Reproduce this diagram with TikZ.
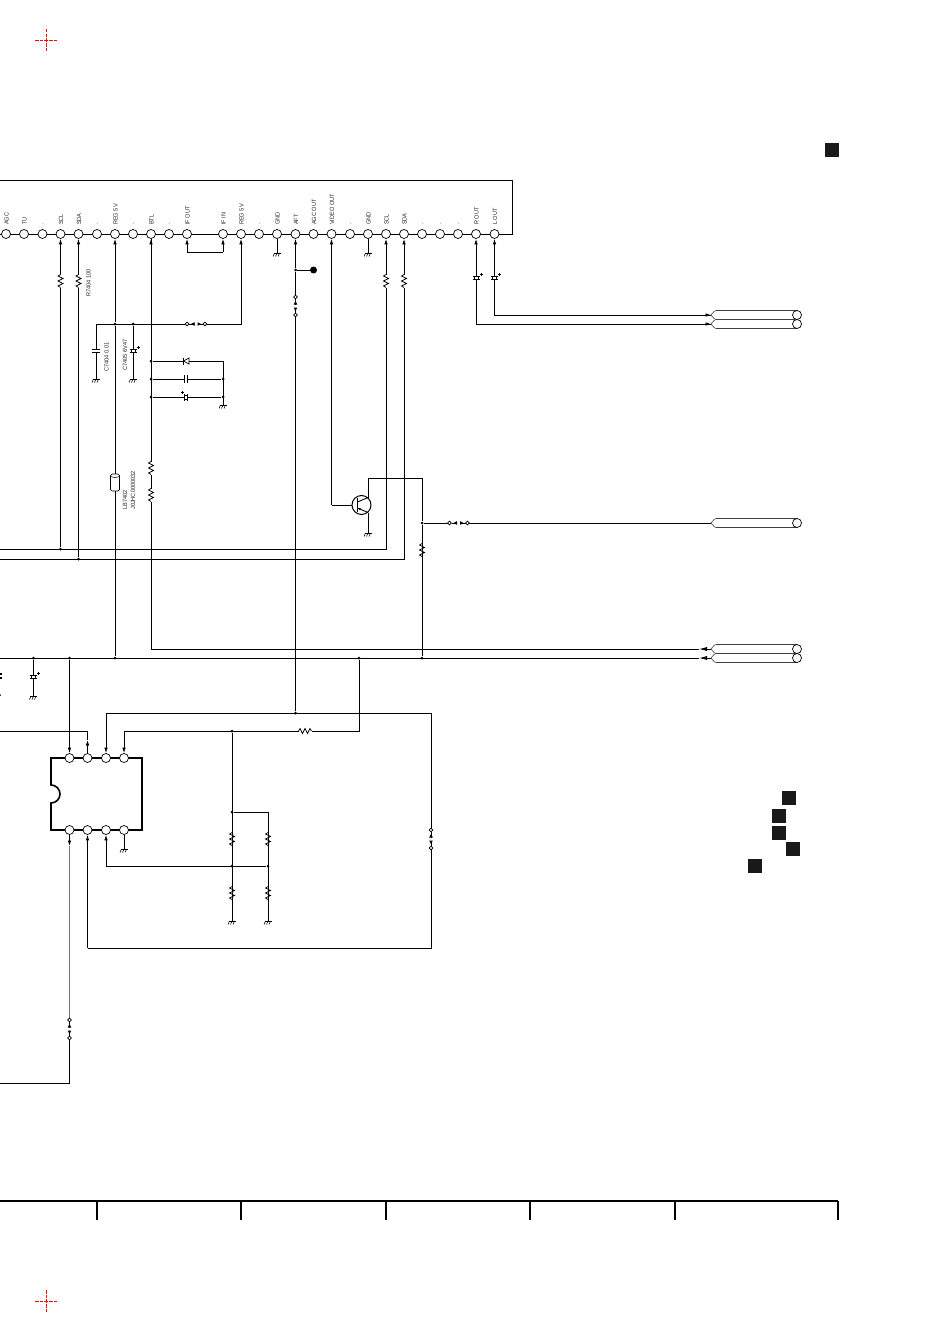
\documentclass[tikz,border=0pt]{standalone}
\usepackage{fontspec}
\setmainfont{Liberation Sans}
\usetikzlibrary{arrows.meta,positioning,calc}
\newcommand\lbl[1]{\scalebox{.92}[1]{#1}}
\tikzset{
  wire/.style={line width=.9pt,black},
  pin/.style={circle,draw=black,fill=white,line width=.7pt,inner sep=0pt,minimum size=9pt},
  dot/.style={circle,fill=black,inner sep=0pt,minimum size=3pt},
  lab/.style={font=\fontsize{6.1}{6}\selectfont,text=black!85,inner sep=0pt,rotate=90},
  sq/.style={fill=black!90,draw=none,inner sep=0pt,minimum size=14pt},
  crop/.style={red,line width=.9pt,dash pattern=on 3.5pt off 1.2pt},
  pics/gnd/.style={code={
    \draw[line width=.7pt] (-3.5,0) -- (3.5,0);
    \foreach \i in {-2.5,0,2.5} \draw[line width=.55pt] (\i,0) -- (\i-1.5,3.5);}},
  pics/res/.style={code={
    \fill[white] (-6.5,-3.5) rectangle (6.5,3.5);
    \draw[line width=.7pt] (-6.5,0) -- (-5,-2.5) -- (-2.5,2.5) -- (0,-2.5) -- (2.5,2.5) -- (5,-2.5) -- (6.5,0);}},
  pics/cap/.style={code={
    \fill[white] (-1.5,-4) rectangle (1.5,4);
    \draw[line width=.9pt] (-1.5,-4) -- (-1.5,4) (1.5,-4) -- (1.5,4);}},
  pics/pol/.style={code={
    \fill[white] (-1.2,-4) rectangle (1.2,4);
    \draw[line width=1.1pt] (-1.4,-3.5) -- (-1.4,3.5) (1.4,-3.5) -- (1.4,3.5);
    \draw[line width=.7pt] (-1.4,-2) -- (1.4,-2) (-1.4,2) -- (1.4,2);
    \draw[line width=.45pt] (3.5,3.5) -- (3.5,6.5) (2,5) -- (5,5);}},
  pics/dio/.style={code={
    \fill[white] (-3,-4) rectangle (3,4);
    \draw[line width=.7pt] (3,-3) -- (-2.5,0) -- (3,3) -- cycle;
    \draw[line width=1.5pt] (-2.5,-3.5) -- (-2.5,3.5);}},
  pics/jump/.style={code={
    \fill[white] (1,-2) rectangle (17,2);
    \draw[line width=.7pt] (2,0) -- (7.5,0) (10.5,0) -- (16,0);
    \draw[line width=.6pt,fill=white] (0,0) circle (1.9) (18,0) circle (1.9);
    \fill (4,0) -- (7.5,-1.8) -- (7.5,1.8) -- cycle;
    \fill (14,0) -- (10.5,-1.8) -- (10.5,1.8) -- cycle;}},
  pics/cable/.style={code={
    \coordinate (-tip) at (0,0);
    \draw[line width=.6pt,black!75,fill=white] (0,0) -- (3,-3.5) to[bend left=15] (5,-4.5) -- (86,-4.5) -- (86,4.5) -- (5,4.5) to[bend left=15] (3,3.5) -- cycle;
    \draw[line width=.7pt,fill=white] (86,0) circle (4.5);}},
}
\begin{document}
\begin{tikzpicture}[x=1pt,y=-1pt,>={Latex[length=5.5pt,width=3.6pt]}]
	\useasboundingbox (0,0) rectangle (950,1343);
	% frame of the tuner pack and its pin row
	\coordinate (fa) at (0,180); \coordinate (fb) at (512.5,180);
	\coordinate (fc) at (512.5,234); \coordinate (fd) at (0,234);
	\draw[wire] (fa) -- (fb) -- (fc) -- (fd);
	\foreach \n/\x/\t in {1/6/AGC,2/24/TU,3/42.5/.,4/60.5/SCL,5/78.5/SDA,6/97/.,7/115/REG 5V,8/133/.,9/151/BTL,10/169/.,11/187/IF OUT,12/223/IF IN,13/241/REG 5V,14/259/.,15/277/GND,16/295.5/AFT,17/313.5/AGC OUT,18/331.5/VIDEO OUT,19/350/.,20/368/GND,21/386/SCL,22/404/SDA,23/422/.,24/440/.,25/458/.,26/476/R OUT,27/494.5/L OUT}{
		\node[pin] (p\n) at (\x,234) {};
		\node[lab,anchor=west] (t\n) at (\x+.5,225) {\lbl{\t}};
	}
	\node[sq] (s0) at (832,150) {};
	% grounds
	\foreach \n/\x/\y in {1/96/379,2/133/379,3/223/405,4/277/253,5/368/253,6/368/533,7/33.5/696,8/124/849,9/232/921,10/268/921}{
		\coordinate (g\n) at (\x,\y);
		\pic at (g\n) {gnd};
	}
	% junctions
	\node[dot] (jscl) at (60.5,549) {}; \node[dot] (jsda) at (78.5,559) {};
	\node[dot] (jreg) at (115,324) {}; \node[dot] (jc5) at (133,324) {};
	\coordinate (ca) at (96,324); \coordinate (cb) at (241,324);
	\node[dot] (jd1) at (151,361) {}; \node[dot] (jd2) at (151,379) {}; \node[dot] (jd3) at (151,397) {};
	\coordinate (rd1) at (223,361); \node[dot] (rd2) at (223,379) {}; \node[dot] (rd3) at (223,397) {};
	\coordinate (ifa) at (187,252); \coordinate (ifb) at (223,252);
	\node[dot] (jaft) at (295.5,270) {};
	\node[circle,fill=black,inner sep=0pt,minimum size=7pt] (tp) at (313.5,270) {};
	% bus and cables
	\pic (cl) at (711,315) {cable}; \pic (cr) at (711,324) {cable};
	\pic (cv) at (711,523) {cable};
	\pic (cb1) at (711,649) {cable}; \pic (cb2) at (711,658) {cable};
	\coordinate (bl) at (0,658); \coordinate (hb1) at (699,649); \coordinate (hb2) at (699,658);
	\node[dot] (b1) at (33.5,658) {}; \node[dot] (b2) at (69.5,658) {}; \node[dot] (b3) at (115,658) {};
	\node[dot] (b4) at (359,658) {}; \node[dot] (b5) at (422,658) {};
	\draw[wire] (bl) -- (hb2);
	\draw[wire,-{Latex[length=8pt,width=4.2pt]}] (cb2-tip) -- (hb2);
	\draw[wire,-{Latex[length=8pt,width=4.2pt]}] (cb1-tip) -- (hb1);
	\draw[wire] (hb1) -| (p9);
	\draw[wire,<-] (p9) -- (jd1);
	% pins to the left part of the sheet
	\coordinate (lscl) at (0,549); \coordinate (lsda) at (0,559);
	\draw[wire,<-] (p4) -- (jscl);
	\draw[wire,<-] (p5) -- (jsda);
	\draw[wire,<-] (p21) |- (lscl);
	\draw[wire,<-] (p22) |- (lsda);
	\node[lab] (rlab) at (88.5,283) {\lbl{R7404 100}};
	\foreach \x/\y in {60.5/281,78.5/281,386/281,404/281,151/468,151/495,232/839,268/839,232/893,268/893,422/550}
		\pic[rotate=90] at (\x,\y) {res};
	% reg 5v and the two capacitors
	\node[draw=black,fill=white,line width=.7pt,rounded corners=1.5pt,inner sep=0pt,minimum width=9pt,minimum height=17pt] (lb) at (115,482.5) {};
	\draw[line width=.5pt] (110.5,476.5) to[bend right=25] (119.5,476.5);
	\draw[wire,<-] (p7) -- (jreg);
	\draw[wire] (jreg) -- (lb);
	\draw[wire] (lb) -- (b3);
	\node[lab,anchor=west] (llab) at (125,510) {\lbl{LB7402}};
	\node[lab,anchor=west] (jlab) at (133,510) {\lbl{J0JHC0000032}};
	\draw[wire,<-] (p13) |- (ca);
	\draw[wire] (ca) -- (g1);
	\draw[wire] (jc5) -- (g2);
	\pic[rotate=90] at (96,351) {cap};
	\pic[rotate=90] at (133,351) {pol};
	\pic at (187,324) {jump};
	\node[lab] (c4lab) at (106.5,357) {\lbl{C7404 0.01}};
	\node[lab] (c5lab) at (125,355) {\lbl{C7405 6V47}};
	% parts beside the btl line
	\draw[wire] (jd1) -- (rd1) -- (g3);
	\draw[wire] (jd2) -- (rd2);
	\draw[wire] (jd3) -- (rd3);
	\pic at (186,361) {dio};
	\pic at (186,379) {cap};
	\pic[rotate=180] at (186,397) {pol};
	% if loop
	\draw[wire,<-] (p11) |- (ifa);
	\draw[wire] (ifa) -- (ifb);
	\draw[wire,->] (ifb) -- (p12);
	% ground pins, aft
	\draw[wire] (p15) -- (g4);
	\draw[wire] (p20) -- (g5);
	\node[dot] (jaf2) at (295.5,713) {};
	\draw[wire,<-] (p16) -- (jaft);
	\draw[wire] (jaft) -- (tp);
	\draw[wire] (jaft) -- (jaf2);
	\pic[rotate=-90] at (295.5,297) {jump};
	% video transistor
	\node[circle,draw=black,line width=1pt,inner sep=0pt,minimum size=19pt] (q) at (361.5,505) {};
	\coordinate (qb) at (331.5,505); \coordinate (qc) at (368,497.5); \coordinate (qe) at (368,512.5);
	\coordinate (qt) at (368,478); \coordinate (qr) at (422,478);
	\draw[wire,<-] (p18) -- (qb);
	\draw[wire] (qb) -- (q);
	\draw[line width=1.2pt] (357.5,498) -- (357.5,512);
	\draw[wire] (357.5,502) -- (qc);
	\draw[wire,{Latex[length=3pt,width=2.5pt]}-] (357.5,508) -- (qe);
	\draw[wire] (qc) -- (qt) -- (qr);
	\draw[wire] (qe) -- (g6);
	\node[dot] (jv) at (422,523) {};
	\draw[wire] (qr) -- (jv);
	\draw[wire] (jv) -- (b5);
	\draw[wire] (jv) -- (cv-tip);
	\pic at (449.5,523) {jump};
	% audio outputs
	\draw[wire,<-] (p26) |- (cr-tip);
	\draw[wire,<-] (p27) |- (cl-tip);
	\draw[wire,->] (700,315) -- (cl-tip);
	\draw[wire,->] (700,324) -- (cr-tip);
	\pic[rotate=90] at (476,278) {pol};
	\pic[rotate=90] at (494.5,278) {pol};
	% small stubs at the sheet edge
	\draw[wire] (b1) -- (g7);
	\pic[rotate=90] at (33.5,677) {pol};
	\draw[line width=1.1pt] (0,674) -- (2,674) (0,678) -- (2,678);
	\fill (0,695) circle (1);
	% the eight pin ic
	\draw[line width=1.6pt] (51,758) -- (142,758) -- (142,830) -- (51,830) -- (51,803) arc[start angle=90,end angle=-90,radius=9] -- cycle;
	\foreach \n/\x in {1/69.5,2/87.5,3/106,4/124}{
		\node[pin] (ua\n) at (\x,758) {};
		\node[pin] (ub\n) at (\x,830) {};
	}
	\coordinate (ua2l) at (0,731); \coordinate (ua2t) at (87.5,731); \coordinate (ua2h) at (87.5,740);
	\coordinate (ua3t) at (106,713); \coordinate (ua3r) at (431,713);
	\coordinate (ua4t) at (124,731); \coordinate (rr) at (359,731);
	\node[dot] (j7) at (232,731) {};
	\node[dot] (j8) at (232,812) {}; \coordinate (j9) at (268,812);
	\node[dot] (j10) at (232,866) {}; \node[dot] (j11) at (268,866) {};
	\coordinate (ub3b) at (106,866);
	\coordinate (oa) at (431,948); \coordinate (ob) at (87.5,948);
	\coordinate (obh) at (69.5,846); \coordinate (ob0) at (69.5,1020);
	\coordinate (ob1) at (69.5,1083); \coordinate (ob2) at (0,1083);
	\draw[wire,->] (b2) -- (ua1);
	\draw[wire] (ua2l) -- (ua2t) -- (ua2h);
	\draw[wire,->] (ua2) -- (ua2h);
	\draw[wire,<-] (ua3) -- (ua3t);
	\draw[wire] (ua3t) -- (ua3r) -- (oa) -- (ob);
	\draw[wire,<-] (ub2) -- (ob);
	\draw[wire,<-] (ua4) -- (ua4t);
	\draw[wire] (ua4t) -- (rr) -- (b4);
	\pic at (305,731) {res};
	\pic[rotate=-90] at (431,830) {jump};
	\draw[wire] (j7) -- (g9);
	\draw[wire] (j8) -- (j9) -- (g10);
	\draw[wire,<-] (ub3) -- (ub3b);
	\draw[wire] (ub3b) -- (j11);
	\draw[wire] (ub4) -- (g8);
	\draw[wire,black!55] (obh) -- (ob0);
	\draw[wire,->] (ub1) -- (obh);
	\draw[wire] (ob0) -- (ob1) -- (ob2);
	\pic[rotate=-90] at (ob0) {jump};
	% key squares
	\node[sq] (s1) at (788.5,798) {};
	\node[sq] (s2) at (779,816) {};
	\node[sq] (s3) at (779,833) {};
	\node[sq] (s4) at (793,849) {};
	\node[sq] (s5) at (755,866) {};
	% bottom ruler
	\coordinate (ra) at (0,1201); \coordinate (rb) at (838,1201);
	\draw[line width=1.4pt] (ra) -- (rb);
	\foreach \x in {97,241,386,530,675,838}
		\draw[line width=1.2pt] (\x,1201) -- (\x,1220);
	% crop marks
	\foreach \n/\y in {1/40,2/1301}{
		\coordinate (m\n) at (46,\y);
		\draw[crop] ($(m\n)+(-11,0)$) -- ($(m\n)+(12,0)$);
		\draw[crop] ($(m\n)+(0,-11)$) -- ($(m\n)+(0,12)$);
	}
\end{tikzpicture}
\end{document}
